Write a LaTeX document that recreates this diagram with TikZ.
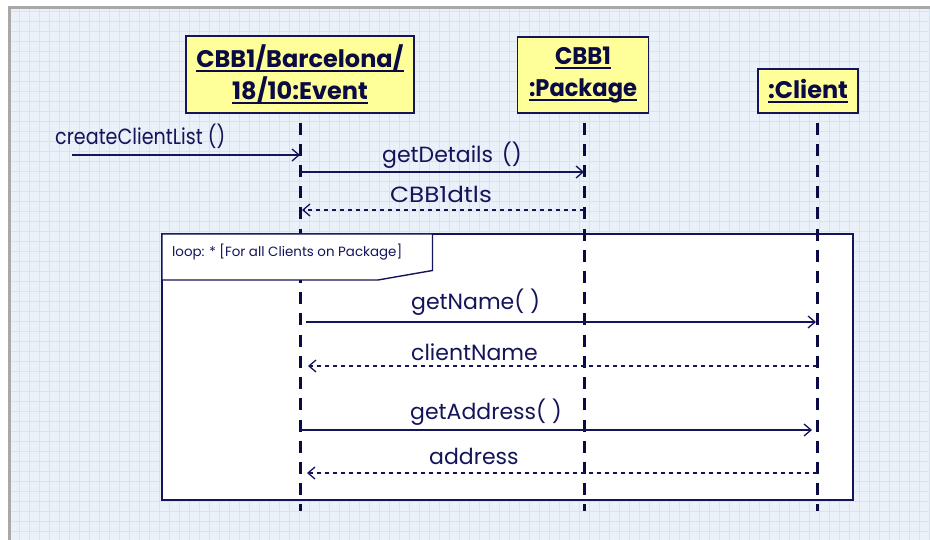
\documentclass[tikz,border=0pt]{standalone}
\usepackage{fontspec}
\setmainfont{Poppins}
\usetikzlibrary{arrows.meta}

\definecolor{paper}{HTML}{EAF1F9}
\definecolor{gridline}{HTML}{D5E4F2}
\definecolor{frameedge}{HTML}{A8A8A8}
\definecolor{ink}{HTML}{14145A}
\definecolor{lifeink}{HTML}{0A0A45}
\definecolor{objfill}{HTML}{FFFF99}

% object names: text with a heavy underline
\newcommand\ulname[1]{\setbox0=\hbox{#1}\leavevmode\rlap{\rule[-4.5pt]{\wd0}{1.9pt}}\box0}

\tikzset{
  objbox/.style={draw=ink, line width=1.5pt, fill=objfill, align=center,
    text=lifeink, font=\fontsize{24}{32}\selectfont\bfseries, inner sep=0pt},
  lifeline/.style={draw=lifeink, line width=3pt, dash pattern=on 12pt off 9.2pt, dash phase=11.5pt},
  callmsg/.style={draw=ink, line width=1.3pt, -{Straight Barb[length=7pt,width=12pt,line width=1.3pt]}},
  replymsg/.style={callmsg, dash pattern=on 4.5pt off 3.5pt},
  msglabel/.style={text=ink, font=\fontsize{22}{26}\selectfont, anchor=base west, inner sep=0pt},
  fragframe/.style={draw=ink, line width=1.4pt, fill=white},
  fraglabel/.style={text=ink, font=\fontsize{13.4}{16}\selectfont, anchor=base west, inner sep=0pt}
}

\begin{document}
\begin{tikzpicture}[x=1pt,y=-1pt]
\useasboundingbox (0,0) rectangle (930,540);
\fill[white] (0,0) rectangle (930,540);

% squared paper
\fill[paper] (9,8) rectangle (930,540);
\foreach \gx in {19,29,...,929} \draw[gridline, line width=0.6pt] (\gx,8) -- (\gx,540);
\foreach \gy in {11,21,...,531} \draw[gridline, line width=0.6pt] (9,\gy) -- (930,\gy);
\draw[frameedge, line width=3pt] (9,540) -- (9,8) -- (930,8);

% loop combined fragment
\draw[fragframe] (162,234) rectangle (853,500);

% lifelines
\coordinate (evTop) at (300,113);  \coordinate (evBot) at (300,511);
\coordinate (pkTop) at (584,113);  \coordinate (pkBot) at (584,511);
\coordinate (clTop) at (817,113);  \coordinate (clBot) at (817,511);
\draw[lifeline] (evTop) -- (evBot);
\draw[lifeline] (pkTop) -- (pkBot);
\draw[lifeline] (clTop) -- (clBot);

% fragment operator tag
\filldraw[fill=white, draw=ink, line width=1.4pt]
  (162,234) -- (432.5,234) -- (432.5,270.5) -- (378,280) -- (162,280) -- cycle;
\node[fraglabel] (looplbl) at (172,257) {loop: * [For all Clients on Package]};

% objects
\node[objbox, minimum width=228pt, minimum height=77pt] (ev) at (300,74.5)
  {\ulname{CBB1/Barcelona/}\\[0pt]\ulname{18/10:Event}};
\node[objbox, minimum width=131pt, minimum height=76pt] (pk) at (583,75)
  {\ulname{\scalebox{0.95}[1]{CBB1}}\\[0pt]\ulname{\scalebox{0.94}[1]{:Package}}};
\node[objbox, minimum width=100pt, minimum height=44pt] (cl) at (808,91)
  {\raisebox{-2pt}{\ulname{:Client}}};

% messages
\coordinate (src) at (72,155);
\draw[callmsg] (src) -- (src -| evTop);
\node[msglabel] (m1) at (55,145) {\scalebox{0.87}[1]{createClientList ()}};

\coordinate (m2a) at (300,172);
\draw[callmsg] (m2a) -- (m2a -| pkTop);
\node[msglabel] (m2) at (382,163) {getDetails\hspace{3pt} ()};

\coordinate (m3a) at (584,210); \coordinate (m3b) at (302,210);
\draw[replymsg] (m3a) -- (m3b);
\node[msglabel] (m3) at (390,203) {\scalebox{1.12}[1]{CBB1dtls}};

\coordinate (m4a) at (306,322); \coordinate (m4b) at (816,322);
\draw[callmsg] (m4a) -- (m4b);
\node[msglabel] (m4) at (411,310) {getName( )};

\coordinate (m5a) at (817,366); \coordinate (m5b) at (308,366);
\draw[replymsg] (m5a) -- (m5b);
\node[msglabel] (m5) at (411,360) {clientName};

\coordinate (m6a) at (300,430); \coordinate (m6b) at (812,430);
\draw[callmsg] (m6a) -- (m6b);
\node[msglabel] (m6) at (410,419) {getAddress( )};

\coordinate (m7a) at (817,473); \coordinate (m7b) at (307,473);
\draw[replymsg] (m7a) -- (m7b);
\node[msglabel] (m7) at (429,464) {address};
\end{tikzpicture}
\end{document}
